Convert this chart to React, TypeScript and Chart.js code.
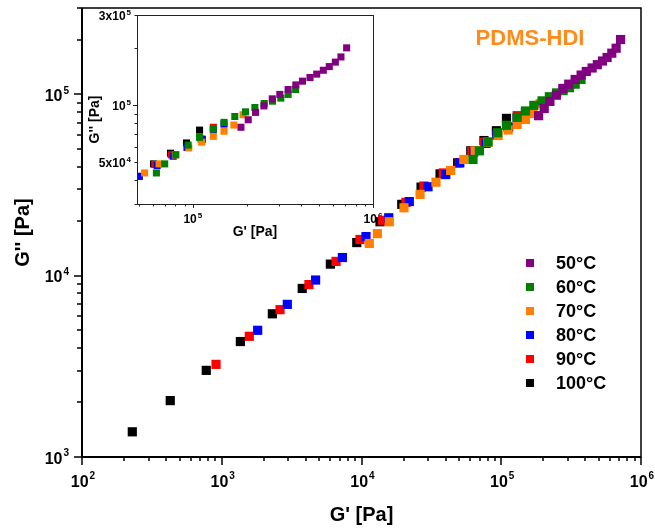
import React, { useEffect, useRef } from 'react';
import { Chart, registerables } from 'chart.js';

Chart.register(...registerables);

// ---------------- data ----------------
const temperatures = ['50°C', '60°C', '70°C', '80°C', '90°C', '100°C'];
const seriesColors = ['#800080', '#008000', '#FF8000', '#0000FF', '#FF0000', '#000000'];

const gPrime50 = [185000, 203000, 223000, 248000, 276000, 304000, 338000, 373000, 406000, 447000, 487000, 530000, 572000, 618000, 664000, 714000];
const gDouble50 = [76400, 83700, 91600, 99100, 108000, 114000, 121000, 128000, 134000, 140000, 146000, 153000, 160000, 169000, 180000, 201000];

const gPrime60 = [62800, 69800, 80500, 94200, 109000, 130000, 149000, 171000, 196000, 221000, 249000, 277000, 308000, 338000, 372000];
const gDouble60 = [43800, 48900, 54700, 61500, 67600, 74800, 81100, 87100, 92200, 97200, 102000, 105000, 109000, 114000, 121000];

const gPrime70 = [11370, 12980, 15810, 20140, 26240, 34120, 43450, 54000, 65000, 80000, 95000, 112000, 130000, 149000, 169000, 190000];
const gDouble70 = [15070, 17070, 19860, 23710, 28120, 32810, 38100, 43800, 48900, 54500, 59400, 63700, 68400, 72800, 78500, 89000];

const gPrime80 = [1807, 2945, 4695, 7300, 10770, 15670, 21980, 29920, 40090, 50500, 63400, 77800, 93000, 113000, 130000, 149000];
const gDouble80 = [5000, 6950, 9470, 12600, 16450, 20890, 25650, 30970, 36140, 42000, 48000, 53700, 59800, 66000, 74000, 79400];

const gPrime90 = [910, 1575, 2612, 4207, 6575, 9750, 14180, 20800, 27990, 38460, 50100, 61500, 76000, 93000, 111000, 130000];
const gDouble90 = [3244, 4634, 6500, 8935, 12000, 15850, 20230, 25410, 31260, 36900, 42000, 48500, 54600, 59800, 66300, 76400];

const gPrime100 = [229, 428, 775, 1359, 2302, 3766, 5987, 9250, 13560, 19410, 26670, 36480, 48750, 60500, 75200, 92300, 109000];
const gDouble100 = [1377, 2047, 3006, 4335, 6166, 8510, 11590, 15240, 19860, 24770, 30830, 36480, 41980, 48900, 55700, 63100, 73800];

const seriesX = [gPrime50, gPrime60, gPrime70, gPrime80, gPrime90, gPrime100];
const seriesY = [gDouble50, gDouble60, gDouble70, gDouble80, gDouble90, gDouble100];

const mainXRange = [1e2, 1e6];
const mainYRange = [1e3, 3e5];
const mainXTickValues = [1e2, 1e3, 1e4, 1e5, 1e6];
const mainYTickValues = [1e3, 1e4, 1e5];

const insetXRange = [4.9e4, 1e6];
const insetYRange = [3e4, 3e5];
const insetXTickValues = [1e5, 1e6];
const insetYTickValues = [5e4, 1e5, 3e5];

const titleText = 'PDMS-HDI';
const xTitle = "G' [Pa]";
const yTitle = "G'' [Pa]";

// ---------------- helpers ----------------
const FONT = '"Liberation Sans", Arial, Helvetica, sans-serif';

function logTicks(min: number, max: number) {
  const out: { v: number; major: boolean }[] = [];
  for (let e = Math.floor(Math.log10(min)) - 1; e <= Math.ceil(Math.log10(max)); e++) {
    for (let m = 1; m <= 9; m++) {
      const v = m * Math.pow(10, e);
      if (v >= min * 0.999 && v <= max * 1.001) out.push({ v, major: m === 1 });
    }
  }
  return out;
}

function drawPower(ctx: CanvasRenderingContext2D, value: number, x: number, yMid: number, align: string, size: number, supSize: number) {
  const e = Math.floor(Math.log10(value) + 1e-9);
  const m = Math.round(value / Math.pow(10, e));
  const base = m === 1 ? '10' : `${m}x10`;
  const sup = String(e);
  ctx.font = `bold ${size}px ${FONT}`;
  const w1 = ctx.measureText(base).width;
  ctx.font = `bold ${supSize}px ${FONT}`;
  const w2 = ctx.measureText(sup).width;
  const total = w1 + w2 + 1;
  const sx = align === 'center' ? x - total / 2 : align === 'right' ? x - total : x;
  const baseline = yMid + (size * 0.716) / 2;
  ctx.textAlign = 'left';
  ctx.textBaseline = 'alphabetic';
  ctx.font = `bold ${size}px ${FONT}`;
  ctx.fillText(base, sx, baseline);
  ctx.font = `bold ${supSize}px ${FONT}`;
  ctx.fillText(sup, sx + w1 + 1, baseline - size * 0.48);
}

function buildDatasets(radius: number, clip: any) {
  return temperatures.map((t, i) => ({
    label: t,
    data: seriesX[i].map((x, j) => ({ x, y: seriesY[i][j] })),
    backgroundColor: seriesColors[i],
    borderColor: seriesColors[i],
    borderWidth: 0,
    pointStyle: 'rect',
    pointRadius: radius,
    pointHoverRadius: radius,
    showLine: false,
    clip,
  }));
}

const mainDecor = {
  id: 'mainDecor',
  afterDraw(chart: any) {
    const { ctx, chartArea: a, scales } = chart;
    const xs = scales.x;
    const ys = scales.y;
    ctx.save();
    ctx.strokeStyle = '#000';
    ctx.lineWidth = 1.5;
    ctx.strokeRect(a.left, a.top, a.right - a.left, a.bottom - a.top);
    ctx.lineWidth = 2;
    ctx.beginPath();
    ctx.moveTo(a.left, a.top);
    ctx.lineTo(a.left, a.bottom);
    ctx.lineTo(a.right, a.bottom);
    ctx.stroke();

    ctx.lineWidth = 1.5;
    ctx.beginPath();
    for (const t of logTicks(xs.min, xs.max)) {
      const px = Math.round(xs.getPixelForValue(t.v));
      ctx.moveTo(px, a.bottom);
      ctx.lineTo(px, a.bottom + (t.major ? 8 : 4));
    }
    for (const t of logTicks(ys.min, ys.max)) {
      const py = Math.round(ys.getPixelForValue(t.v));
      ctx.moveTo(a.left, py);
      ctx.lineTo(a.left - (t.major ? 8 : 5), py);
    }
    ctx.stroke();

    ctx.fillStyle = '#000';
    for (const v of mainXTickValues) drawPower(ctx, v, xs.getPixelForValue(v) + 1, a.bottom + 24, 'center', 16, 10);
    for (const v of mainYTickValues) drawPower(ctx, v, a.left - 13, ys.getPixelForValue(v) + 1, 'right', 16, 10);

    ctx.font = `bold 20px ${FONT}`;
    ctx.textAlign = 'center';
    ctx.textBaseline = 'middle';
    ctx.fillText(xTitle, (a.left + a.right) / 2, a.bottom + 58);
    ctx.save();
    ctx.translate(a.left - 59, (a.top + a.bottom) / 2);
    ctx.rotate(-Math.PI / 2);
    ctx.fillText(yTitle, 0, 0);
    ctx.restore();

    // title
    ctx.fillStyle = '#FF8C1A';
    ctx.font = `bold 22px ${FONT}`;
    ctx.fillText(titleText, a.right - 111, a.top + 31);

    // legend
    const markX = a.right - 111;
    const textX = a.right - 85;
    const rowY0 = a.bottom - 194;
    chart.data.datasets.forEach((ds: any, i: number) => {
      const y = rowY0 + i * 24;
      ctx.fillStyle = ds.backgroundColor;
      ctx.fillRect(markX - 4, y - 4, 8, 8);
      ctx.fillStyle = '#000';
      ctx.font = `bold 18px ${FONT}`;
      ctx.textAlign = 'left';
      ctx.textBaseline = 'middle';
      ctx.fillText(ds.label, textX, y + 1);
    });
    ctx.restore();
  },
};

const insetDecor = {
  id: 'insetDecor',
  beforeDraw(chart: any) {
    const { ctx, chartArea: a } = chart;
    ctx.save();
    ctx.fillStyle = '#fff';
    ctx.fillRect(a.left, a.top, a.right - a.left, a.bottom - a.top);
    ctx.restore();
  },
  afterDraw(chart: any) {
    const { ctx, chartArea: a, scales } = chart;
    const xs = scales.x;
    const ys = scales.y;
    ctx.save();
    ctx.strokeStyle = '#222';
    ctx.lineWidth = 1;
    ctx.strokeRect(a.left + 0.5, a.top + 0.5, a.right - a.left, a.bottom - a.top);
    ctx.beginPath();
    for (const t of logTicks(xs.min, xs.max)) {
      const px = Math.round(xs.getPixelForValue(t.v)) + 0.5;
      ctx.moveTo(px, a.bottom);
      ctx.lineTo(px, a.bottom + (t.major ? 4 : 2.5));
    }
    for (const t of logTicks(ys.min, ys.max)) {
      const py = Math.round(ys.getPixelForValue(t.v)) + 0.5;
      ctx.moveTo(a.left, py);
      ctx.lineTo(a.left - (t.major ? 4 : 2.5), py);
    }
    ctx.stroke();

    ctx.fillStyle = '#000';
    for (const v of insetXTickValues) drawPower(ctx, v, xs.getPixelForValue(v), a.bottom + 15, 'center', 12, 8);
    for (const v of insetYTickValues) drawPower(ctx, v, a.left - 6, ys.getPixelForValue(v) + 1, 'right', 12, 8);

    ctx.font = `bold 14px ${FONT}`;
    ctx.textAlign = 'center';
    ctx.textBaseline = 'middle';
    ctx.fillText(xTitle, (a.left + a.right) / 2, a.bottom + 28);
    ctx.save();
    ctx.translate(a.left - 42, (a.top + a.bottom) / 2 + 10);
    ctx.rotate(-Math.PI / 2);
    ctx.fillText(yTitle, 0, 0);
    ctx.restore();
    ctx.restore();
  },
};

export default function App() {
  const mainRef = useRef<HTMLCanvasElement | null>(null);
  const insetRef = useRef<HTMLCanvasElement | null>(null);

  useEffect(() => {
    const inset = new Chart(insetRef.current as HTMLCanvasElement, {
      type: 'scatter',
      data: { datasets: buildDatasets(5, 0) as any },
      options: {
        animation: false,
        responsive: false,
        events: [],
        layout: { padding: { left: 137, top: 15, right: 282, bottom: 325 } },
        scales: {
          x: { type: 'logarithmic', min: insetXRange[0], max: insetXRange[1], display: false },
          y: { type: 'logarithmic', min: insetYRange[0], max: insetYRange[1], display: false },
        },
        plugins: { legend: { display: false }, tooltip: { enabled: false } },
      },
      plugins: [insetDecor],
    });
    const main = new Chart(mainRef.current as HTMLCanvasElement, {
      type: 'scatter',
      data: { datasets: buildDatasets(6.5, 8) as any },
      options: {
        animation: false,
        responsive: false,
        events: [],
        layout: { padding: { left: 82, top: 8, right: 14, bottom: 72 } },
        scales: {
          x: { type: 'logarithmic', min: mainXRange[0], max: mainXRange[1], display: false },
          y: { type: 'logarithmic', min: mainYRange[0], max: mainYRange[1], display: false },
        },
        plugins: { legend: { display: false }, tooltip: { enabled: false } },
      },
      plugins: [mainDecor],
    });
    return () => {
      main.destroy();
      inset.destroy();
    };
  }, []);

  const canvasStyle: React.CSSProperties = { position: 'absolute', left: 0, top: 0, width: 655, height: 529 };
  return (
    <div style={{ position: 'absolute', left: 0, top: 0, width: 655, height: 529, background: '#fff' }}>
      <canvas ref={insetRef} width={655} height={529} style={canvasStyle} />
      <canvas ref={mainRef} width={655} height={529} style={canvasStyle} />
    </div>
  );
}
